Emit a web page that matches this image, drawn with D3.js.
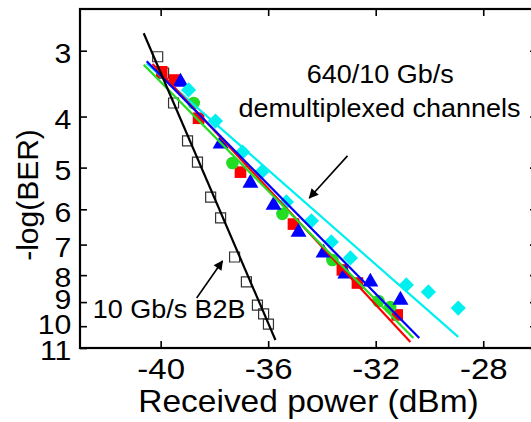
<!DOCTYPE html>
<html>
<head>
<meta charset="utf-8">
<script src="https://cdn.jsdelivr.net/npm/d3@7"></script>
<style>
body{margin:0;background:#fff}
svg{display:block}
text{font-family:"Liberation Sans",Arial,Helvetica,sans-serif;fill:#000}
</style>
</head>
<body>
<svg id="graph" width="531" height="422"></svg>
<script>
// valeurs : x = puissance reçue (dBm), y = -log(BER)
var b2bX = [-40.11,-39.89,-39.52,-39.0,-38.63,-38.14,-37.77,-37.25,-36.81,-36.40,-36.17,-35.99];
var b2bY = [3.08,3.31,3.77,4.45,4.88,5.69,6.23,7.39,8.24,9.12,9.48,9.91];

var redX = [-39.96,-39.48,-38.59,-37.03,-35.06,-33.24,-32.68,-31.20];
var redY = [3.29,3.41,4.03,5.10,6.40,7.82,8.28,9.52];

var greenX = [-38.77,-37.33,-35.47,-33.61,-31.90,-31.46];
var greenY = [3.77,4.90,6.12,7.49,8.96,9.20];

var blueX = [-39.26,-37.77,-36.66,-35.80,-34.87,-33.94,-33.13,-32.20,-31.08];
var blueY = [3.44,4.51,5.35,5.89,6.63,7.26,7.96,8.24,8.92];

var cyanX = [-38.96,-37.96,-36.95,-36.25,-35.32,-34.39,-33.65,-32.94,-30.86,-30.04,-28.93];
var cyanY = [3.56,4.08,4.67,5.10,5.81,6.31,6.92,7.42,8.35,8.61,9.24];

// droites d'ajustement (deux extrémités chacune)
var fitB2B   = [[-40.63,2.78],[-35.73,10.62]];
var fitRed   = [[-40.30,3.18],[-30.71,10.72]];
var fitGreen = [[-40.63,3.19],[-30.60,10.53]];
var fitBlue  = [[-40.52,3.14],[-30.38,10.53]];
var fitCyan  = [[-40.52,3.17],[-28.93,10.48]];

var xTicks = [-40,-36,-32,-28];
var yTicks = [3,4,5,6,7,8,9,10,11];

var xTitle = "Received power (dBm)";
var yTitle = "-log(BER)";
var demuxLabel = ["640/10 Gb/s","demultiplexed channels"];
var b2bLabel = "10 Gb/s B2B";

var sx = 1.08; // étirement horizontal du texte de l'original

var svg = d3.select("#graph");
svg.append("rect").attr("width",531).attr("height",422).attr("fill","#fff");

var x = d3.scaleLinear().domain([-43,-26]).range([80,537]);
var y = d3.scaleLog().domain([2.5,11]).range([9,348]);

var defs = svg.append("defs");
defs.append("marker").attr("id","arr")
  .attr("viewBox","0 0 10 10").attr("refX",9).attr("refY",5)
  .attr("markerWidth",7).attr("markerHeight",6).attr("orient","auto")
  .append("path").attr("d","M0,0L10,5L0,10Z").attr("fill","#000");

// axes
function styleAxis(g){
  g.select(".domain").remove();
  g.selectAll(".tick line").attr("stroke","#000").attr("stroke-width",1.6);
}
var gx = svg.append("g").attr("transform","translate(0,348)")
  .call(d3.axisBottom(x).tickValues(xTicks).tickSize(-7).tickPadding(10).tickFormat(String));
styleAxis(gx);
gx.selectAll("text").attr("font-size",30).attr("font-family",null).attr("transform","scale(1.1,1)");

var gxt = svg.append("g").attr("transform","translate(0,9)")
  .call(d3.axisTop(x).tickValues(xTicks).tickSize(-7).tickFormat(""));
styleAxis(gxt);

// décalage vertical propre à chaque étiquette (9, 10, 11 sont serrés)
var yDy = {9:"0.22em",10:"0.25em",11:"0.4em"};
var gy = svg.append("g").attr("transform","translate(80,0)")
  .call(d3.axisLeft(y).tickValues(yTicks).tickSize(-7).tickPadding(8).tickFormat(String));
styleAxis(gy);
gy.selectAll("text").attr("font-size",28).attr("font-family",null)
  .attr("dy", function(d){ return yDy[d] || "0.42em"; })
  .attr("transform","scale("+sx+",1)");

var gyr = svg.append("g").attr("transform","translate(537,0)")
  .call(d3.axisRight(y).tickValues(yTicks).tickSize(-7).tickFormat(""));
styleAxis(gyr);

// cadre
svg.append("rect").attr("x",x(-43)).attr("y",y(2.5))
  .attr("width",x(-26)-x(-43)).attr("height",y(11)-y(2.5))
  .attr("fill","none").attr("stroke","#000").attr("stroke-width",2.2);

// points
function drawPoints(xs, ys, type, size, fill, stroke, rot){
  var sym = d3.symbol().type(type).size(size);
  svg.append("g").selectAll("path").data(xs).enter().append("path")
    .attr("d", sym)
    .attr("transform", function(d,i){ return "translate("+x(d)+","+y(ys[i])+") rotate("+rot+")"; })
    .attr("fill", fill)
    .attr("stroke", stroke || "none")
    .attr("stroke-width", stroke ? 1.2 : 0);
}
drawPoints(b2bX, b2bY, d3.symbolSquare, 100, "none", "#333", 0);
drawPoints(redX, redY, d3.symbolSquare, 135, "#ff0000", null, 0);
drawPoints(greenX, greenY, d3.symbolCircle, 125, "#22dd22", null, 0);
drawPoints(blueX, blueY, d3.symbolTriangle, 110, "#0000ff", null, 0);
drawPoints(cyanX, cyanY, d3.symbolSquare, 115, "#00f0f0", null, 45);

// droites
var line = d3.line().x(function(d){ return x(d[0]); }).y(function(d){ return y(d[1]); });
function drawFit(pts, col){
  svg.append("path").attr("d", line(pts)).attr("fill","none")
    .attr("stroke", col).attr("stroke-width", 2.2);
}
drawFit(fitCyan, "#00f0f0");
drawFit(fitRed, "#ff0000");
drawFit(fitGreen, "#22dd22");
drawFit(fitBlue, "#0000ff");
drawFit(fitB2B, "#000");

// annotations
function label(txt, px, py, size, anchor){
  svg.append("text").text(txt)
    .attr("transform","translate("+px+","+py+") scale("+sx+",1)")
    .attr("font-size", size).attr("text-anchor", anchor);
}
label(demuxLabel[0], x(-31.83), y(3.45), 25, "middle");
label(demuxLabel[1], x(-31.86), y(4.01), 25, "middle");
label(b2bLabel, x(-42.53), y(9.65), 25, "start");

function arrow(p0, p1){
  svg.append("line")
    .attr("x1", x(p0[0])).attr("y1", y(p0[1]))
    .attr("x2", x(p1[0])).attr("y2", y(p1[1]))
    .attr("stroke","#000").attr("stroke-width",1.6)
    .attr("marker-end","url(#arr)");
}
arrow([-33.05,4.75],[-34.47,5.71]);
arrow([-38.66,8.84],[-37.70,7.52]);

// titres des axes
svg.append("text").text(xTitle)
  .attr("transform","translate("+((x(-43)+x(-26))/2)+",412) scale("+sx+",1)")
  .attr("font-size",31).attr("text-anchor","middle");
svg.append("text").text(yTitle)
  .attr("transform","translate(38,195) rotate(-90)")
  .attr("font-size",30).attr("text-anchor","middle");
</script>
</body>
</html>
